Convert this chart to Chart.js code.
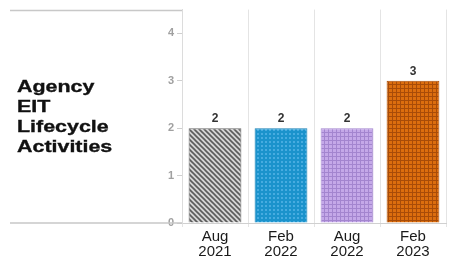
<!DOCTYPE html>
<html>
<head>
<meta charset="utf-8">
<script src="https://cdn.jsdelivr.net/npm/chart.js@4"></script>
<style>
  html, body { margin: 0; padding: 0; background: #fff; }
  #wrap { width: 452px; height: 260px; }
</style>
</head>
<body>
<div id="wrap"><canvas id="myChart" width="452" height="260"></canvas></div>
<script>
var categories = [['Aug', '2021'], ['Feb', '2022'], ['Aug', '2022'], ['Feb', '2023']];
var counts = [2, 2, 2, 3];
var yTicks = [0, 1, 2, 3, 4];
var titleLines = ['Agency', 'EIT', 'Lifecycle', 'Activities'];

function makePattern(kind) {
    var c = document.createElement('canvas');
    var g = c.getContext('2d');
    var s = 4;
    c.width = s; c.height = s;
    if (kind === 'stripes') {
        s = 5; c.width = s; c.height = s;
        g.fillStyle = '#d4d4d4';
        g.fillRect(0, 0, s, s);
        g.strokeStyle = '#5a5a5a';
        g.lineWidth = 1.6;
        g.beginPath();
        g.moveTo(-1, -1); g.lineTo(s + 1, s + 1);
        g.moveTo(-1, s - 1); g.lineTo(1, s + 1);
        g.moveTo(s - 1, -1); g.lineTo(s + 1, 1);
        g.stroke();
    } else if (kind === 'dots') {
        g.fillStyle = '#1b93cc';
        g.fillRect(0, 0, s, s);
        g.fillStyle = '#47ace0';
        g.fillRect(1, 1, 2, 2);
    } else if (kind === 'grid') {
        g.fillStyle = '#c4a8e8';
        g.fillRect(0, 0, s, s);
        g.fillStyle = '#a385cf';
        g.fillRect(0, 0, 1, s);
        g.fillRect(0, 0, s, 1);
    } else {
        g.fillStyle = '#dc6e0e';
        g.fillRect(0, 0, s, s);
        g.fillStyle = '#a84c08';
        g.fillRect(0, 0, 1, s);
        g.fillRect(0, 0, s, 1);
    }
    return g.createPattern(c, 'repeat');
}

var sidePlugin = {
    id: 'side',
    afterDraw: function (chart) {
        var ctx = chart.ctx;
        var a = chart.chartArea;
        ctx.save();
        ctx.strokeStyle = '#c8c8c8';
        ctx.lineWidth = 1.5;
        ctx.beginPath();
        ctx.moveTo(10, a.top + 1);
        ctx.lineTo(a.left, a.top + 1);
        ctx.moveTo(10, a.bottom);
        ctx.lineTo(a.left, a.bottom);
        ctx.stroke();
        ctx.fillStyle = '#111';
        ctx.strokeStyle = '#111';
        ctx.lineWidth = 0.35;
        ctx.font = 'bold 17px "Liberation Sans", Arial, sans-serif';
        ctx.textAlign = 'left';
        ctx.textBaseline = 'alphabetic';
        titleLines.forEach(function (t, i) {
            ctx.save();
            ctx.translate(17, 92 + i * 20);
            ctx.scale(1.26, 1);
            ctx.fillText(t, 0, 0);
            ctx.strokeText(t, 0, 0);
            ctx.restore();
        });
        // value labels above bars
        var meta = chart.getDatasetMeta(0);
        ctx.fillStyle = '#333';
        ctx.font = 'bold 12px "Liberation Sans", Arial, sans-serif';
        ctx.textAlign = 'center';
        ctx.textBaseline = 'bottom';
        meta.data.forEach(function (bar, i) {
            ctx.fillText(String(counts[i]), bar.x, bar.y - 3);
        });
        ctx.restore();
    }
};

var ctx = document.getElementById('myChart');
var myBarChart = new Chart(ctx, {
    type: 'bar',
    data: {
        labels: categories,
        datasets: [{
            data: counts,
            backgroundColor: [
                makePattern('stripes'),
                makePattern('dots'),
                makePattern('grid'),
                makePattern('checks')
            ],
            borderColor: ['#6a6a6a', '#1780b5', '#a385cf', '#a84c08'],
            borderWidth: 1,
            barPercentage: 0.8,
            categoryPercentage: 1
        }]
    },
    options: {
        responsive: false,
        animation: false,
        layout: { padding: { top: 7, right: 6, left: 0, bottom: 0 } },
        plugins: {
            legend: { display: false },
            tooltip: { enabled: false }
        },
        scales: {
            x: {
                grid: { offset: true, color: '#e4e4e4', tickLength: 4 },
                border: { display: true, color: '#d0d0d0' },
                ticks: {
                    color: '#1a1a1a',
                    padding: 2,
                    font: { family: '"Liberation Sans", Arial, sans-serif', size: 15, lineHeight: 1.0 },
                    maxRotation: 0
                },
                afterFit: function (scale) { scale.height = 37; }
            },
            y: {
                min: 0,
                max: 4.5,
                afterBuildTicks: function (scale) {
                    scale.ticks = yTicks.map(function (v) { return { value: v }; });
                },
                grid: { drawOnChartArea: false, tickLength: 5, color: '#cfcfcf' },
                border: { display: true, color: '#dcdcdc' },
                ticks: {
                    color: '#a0a0a0',
                    padding: 3,
                    font: { family: '"Liberation Sans", Arial, sans-serif', size: 11, weight: 'bold' }
                },
                afterFit: function (scale) { scale.width = 182; }
            }
        }
    },
    plugins: [sidePlugin]
});
</script>
</body>
</html>
